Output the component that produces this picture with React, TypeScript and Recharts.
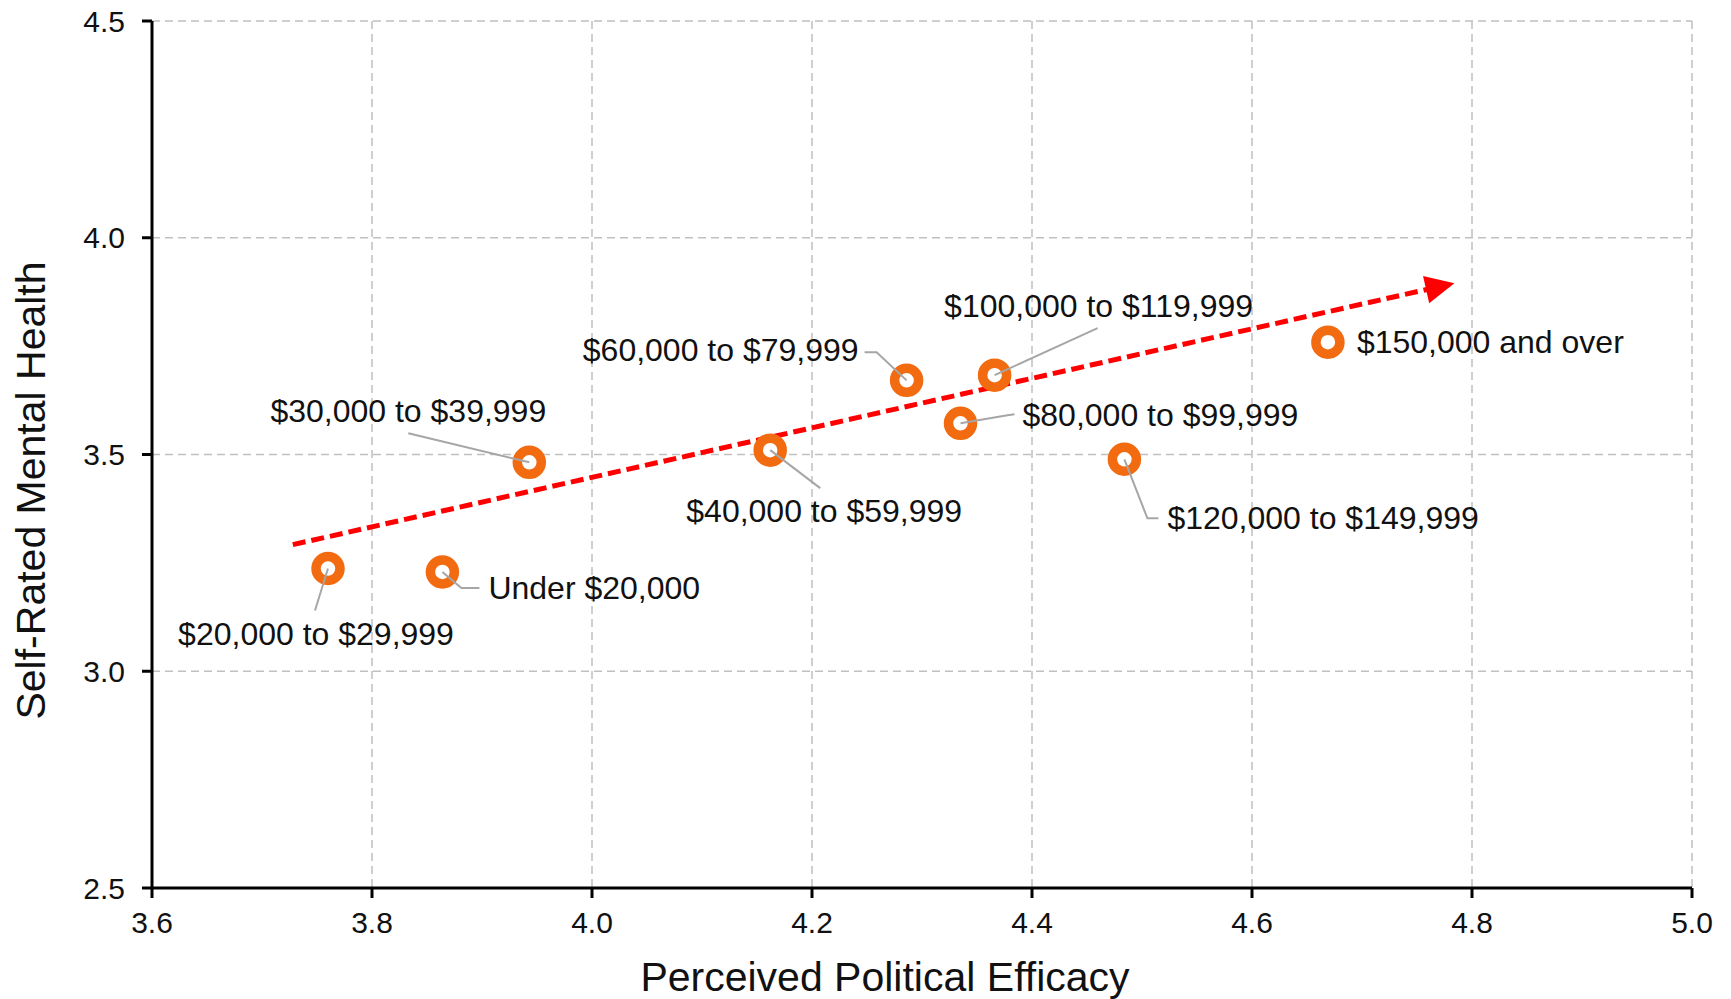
import React from "react";
import {
  ScatterChart,
  Scatter,
  XAxis,
  YAxis,
  CartesianGrid,
  ReferenceLine,
} from "recharts";

const incomeGroups = [
  "$20,000 to $29,999",
  "Under $20,000",
  "$30,000 to $39,999",
  "$40,000 to $59,999",
  "$60,000 to $79,999",
  "$100,000 to $119,999",
  "$80,000 to $99,999",
  "$120,000 to $149,999",
  "$150,000 and over",
];
const efficacy = [3.76, 3.864, 3.943, 4.162, 4.286, 4.366, 4.335, 4.484, 4.669];
const mentalHealth = [3.237, 3.229, 3.482, 3.51, 3.671, 3.683, 3.572, 3.489, 3.759];

const trendX = [3.728, 4.784];
const trendY = [3.292, 3.895];

const xTicks = [3.6, 3.8, 4.0, 4.2, 4.4, 4.6, 4.8, 5.0];
const yTicks = [2.5, 3.0, 3.5, 4.0, 4.5];

const FONT = "'Liberation Sans', Arial, sans-serif";
const ORANGE = "#F26B10";

// where each label sits relative to its point (px), with optional leader line
type Layout = {
  anchor: "start" | "middle" | "end";
  dx: number;
  dy: number;
  leader?: number[][];
};
const labelLayout: Record<string, Layout> = {
  "$20,000 to $29,999": { anchor: "middle", dx: -12, dy: 76, leader: [[0, 0], [-13, 42]] },
  "Under $20,000": { anchor: "start", dx: 46, dy: 27, leader: [[0, 0], [19, 16], [37, 16]] },
  "$30,000 to $39,999": { anchor: "middle", dx: -121, dy: -40, leader: [[0, 0], [-121, -29]] },
  "$40,000 to $59,999": { anchor: "middle", dx: 54, dy: 72, leader: [[0, 0], [50, 38]] },
  "$60,000 to $79,999": { anchor: "end", dx: -48, dy: -19, leader: [[0, 0], [-30, -28], [-42, -28]] },
  "$100,000 to $119,999": { anchor: "middle", dx: 104, dy: -58, leader: [[0, 0], [103, -47]] },
  "$80,000 to $99,999": { anchor: "start", dx: 62, dy: 3, leader: [[0, 0], [47, -8], [54, -9]] },
  "$120,000 to $149,999": { anchor: "start", dx: 43, dy: 70, leader: [[0, 0], [23, 59], [34, 59]] },
  "$150,000 and over": { anchor: "start", dx: 29, dy: 11 },
};

const points = incomeGroups.map((name, i) => ({
  name,
  x: efficacy[i],
  y: mentalHealth[i],
}));

const renderPoint = (props: any) => {
  const { cx, cy, payload } = props;
  const lay = labelLayout[payload.name];
  return (
    <g>
      <circle cx={cx} cy={cy} r={12} fill="#ffffff" stroke={ORANGE} strokeWidth={9.5} />
      {lay.leader && (
        <polyline
          points={lay.leader.map(([a, b]) => `${cx + a},${cy + b}`).join(" ")}
          fill="none"
          stroke="#a6a6a6"
          strokeWidth={2}
        />
      )}
      <text
        x={cx + lay.dx}
        y={cy + lay.dy}
        textAnchor={lay.anchor}
        fontFamily={FONT}
        fontSize={32}
        fill="#111111"
      >
        {payload.name}
      </text>
    </g>
  );
};

const renderArrow = (props: any) => {
  const { x1, y1, x2, y2 } = props;
  const len = Math.hypot(x2 - x1, y2 - y1);
  const ux = (x2 - x1) / len;
  const uy = (y2 - y1) / len;
  const head = 29;
  const half = 14;
  const bx = x2 - ux * head;
  const by = y2 - uy * head;
  return (
    <g>
      <line
        x1={x1}
        y1={y1}
        x2={bx + ux * 2}
        y2={by + uy * 2}
        stroke="#FF0000"
        strokeWidth={5}
        strokeDasharray="13 6"
      />
      <polygon
        points={`${x2},${y2} ${bx - uy * half},${by + ux * half} ${bx + uy * half},${by - ux * half}`}
        fill="#FF0000"
      />
    </g>
  );
};

const tickStyle = { fontFamily: FONT, fontSize: 30, fill: "#111111" };

export default function App() {
  return (
    <div style={{ position: "absolute", left: 0, top: 0, background: "#fff" }}>
      <ScatterChart
        width={1731}
        height={999}
        margin={{ top: 21, right: 39, bottom: 0, left: 0 }}
      >
        <CartesianGrid stroke="#c0c0c0" strokeDasharray="8 5" strokeWidth={1.5} />
        <XAxis
          type="number"
          dataKey="x"
          domain={[3.6, 5.0]}
          ticks={xTicks}
          allowDataOverflow
          tickFormatter={(v: number) => v.toFixed(1)}
          height={111}
          tickSize={10}
          tickMargin={14}
          tick={tickStyle}
          axisLine={{ stroke: "#000", strokeWidth: 3 }}
          tickLine={{ stroke: "#000", strokeWidth: 3 }}
          label={(p: any) => {
            const vb = p.viewBox;
            return (
              <text
                x={vb.x + vb.width / 2 - 37}
                y={977}
                textAnchor="middle"
                dominantBaseline="central"
                fontFamily={FONT}
                fontSize={41}
                fill="#111111"
              >
                Perceived Political Efficacy
              </text>
            );
          }}
        />
        <YAxis
          type="number"
          dataKey="y"
          domain={[2.5, 4.5]}
          ticks={yTicks}
          allowDataOverflow
          tickFormatter={(v: number) => v.toFixed(1)}
          width={152}
          tickSize={10}
          tickMargin={17}
          tick={tickStyle}
          axisLine={{ stroke: "#000", strokeWidth: 3 }}
          tickLine={{ stroke: "#000", strokeWidth: 3 }}
          label={(p: any) => {
            const vb = p.viewBox;
            const cy = vb.y + vb.height / 2 + 36;
            return (
              <text
                x={31}
                y={cy}
                transform={`rotate(-90, 31, ${cy})`}
                textAnchor="middle"
                dominantBaseline="central"
                fontFamily={FONT}
                fontSize={41}
                fill="#111111"
              >
                Self-Rated Mental Health
              </text>
            );
          }}
        />
        <Scatter data={points} shape={renderPoint} isAnimationActive={false} />
        <ReferenceLine
          segment={[
            { x: trendX[0], y: trendY[0] },
            { x: trendX[1], y: trendY[1] },
          ]}
          shape={renderArrow}
        />
      </ScatterChart>
    </div>
  );
}
